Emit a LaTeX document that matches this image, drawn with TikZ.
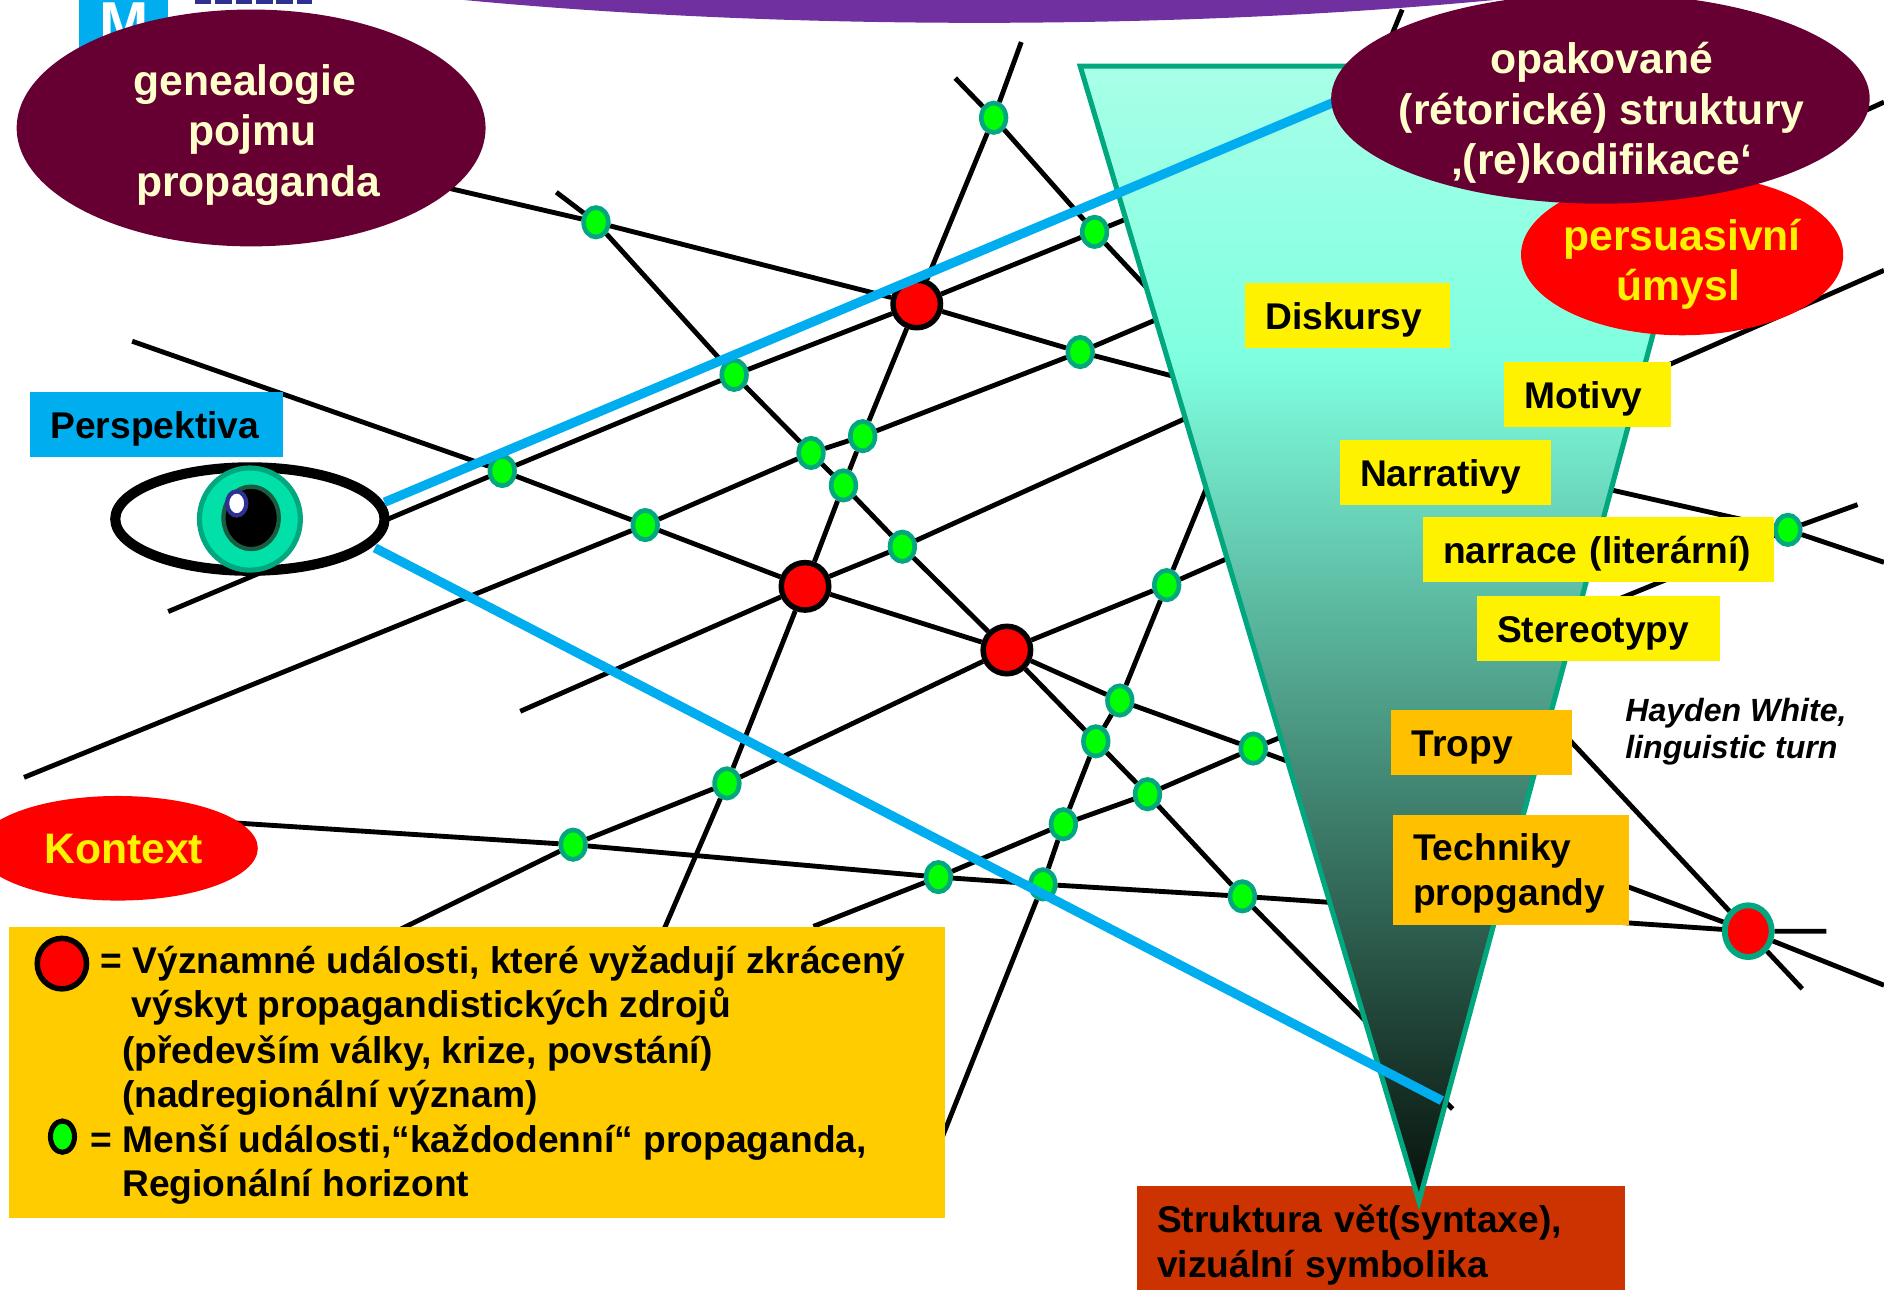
\documentclass[tikz,border=0pt]{standalone}
\usepackage{fontspec}
\setmainfont{Liberation Sans}
\usetikzlibrary{shapes.geometric}
\definecolor{prmaroon}{HTML}{660033}
\definecolor{prcream}{HTML}{FFFFCC}
\definecolor{prblue}{HTML}{00AEEF}
\definecolor{prpurple}{HTML}{7030A0}
\definecolor{prteal}{HTML}{00A77F}
\definecolor{prlime}{HTML}{00FF00}
\definecolor{pramber}{HTML}{FFC000}
\definecolor{prgold}{HTML}{FFCC00}
\definecolor{prrust}{HTML}{CC3300}
\definecolor{prtop}{HTML}{A8FFE8}
\definecolor{prmid}{HTML}{7FFFDF}
\definecolor{prtip}{HTML}{061009}
\definecolor{priris}{HTML}{00E0A8}
\definecolor{prpupil}{HTML}{1A5C40}
\definecolor{prnavy}{HTML}{2E3192}
\pgfdeclareverticalshading{funnelshade}{100bp}{color(0bp)=(prtip); color(25bp)=(prtip); color(62bp)=(prmid); color(75bp)=(prtop); color(100bp)=(prtop)}
\tikzset{
  minor/.style={ellipse, draw=prteal, fill=prlime, line width=1.1pt, inner sep=0pt, minimum width=0.205cm, minimum height=0.245cm},
  major/.style={circle, draw=black, fill=red, line width=1.3pt, inner sep=0pt, minimum size=0.395cm},
  strand/.style={black, line width=1.15pt},
  sightline/.style={prblue, line width=2.2pt},
  bubble/.style={ellipse, inner sep=0pt},
  bubbletext/.style={inner sep=0pt, align=center, font=\fontsize{10.1}{11.95}\selectfont\bfseries},
  tagtwo/.style={rectangle, anchor=west, outer sep=0pt, inner ysep=0pt, inner xsep=0.17cm, align=left, font=\fontsize{8.8}{10.6}\selectfont\bfseries},
  tag/.style={tagtwo, text height=0.295cm, text depth=0.06cm, minimum height=0.54cm},
  legendline/.style={anchor=base west, inner sep=0pt, font=\fontsize{8.8}{10.6}\selectfont\bfseries}
}
\begin{document}
\begin{tikzpicture}[x=0.01cm, y=-0.01cm]
  \clip (0,0) rectangle (1568,1073);

  % Header scraps
  \fill[prpurple] (815,-150) ellipse [x radius=930, y radius=169];
  \fill[prblue] (66,0) rectangle (140,60);
  \node[inner sep=0pt, white, font=\fontsize{14}{14}\selectfont\bfseries] (logo) at (103,19) {M};
  \draw[prnavy, line width=1pt, dash pattern=on 0.14cm off 0.03cm] (162,1.5) -- (260,1.5);

  % Small events
  \node[minor] (g1) at (496,185) {};
  \node[minor] (g2) at (827,98) {};
  \node[minor] (g3) at (911,193) {};
  \node[minor] (g4) at (899,293) {};
  \node[minor] (g5) at (611,312) {};
  \node[minor] (g6) at (418,392) {};
  \node[minor] (g7) at (537,437) {};
  \node[minor] (g8) at (675,377) {};
  \node[minor] (g9) at (718,363) {};
  \node[minor] (g10) at (702,404) {};
  \node[minor] (g11) at (751,455) {};
  \node[minor] (g12) at (971,487) {};
  \node[minor] (g13) at (932,583) {};
  \node[minor] (g14) at (912,617) {};
  \node[minor] (g15) at (1043,623) {};
  \node[minor] (g16) at (955,661) {};
  \node[minor] (g17) at (885,686) {};
  \node[minor] (g18) at (605,652) {};
  \node[minor] (g19) at (477,703) {};
  \node[minor] (g20) at (781,730) {};
  \node[minor] (g21) at (868,736) {};
  \node[minor] (g22) at (1034,746) {};
  \node[minor] (g23) at (1488,441) {};

  % Big events
  \node[major] (r1) at (763,253) {};
  \node[major] (r2) at (670,488) {};
  \node[major] (r3) at (838,541) {};
  \node[major, draw=prteal, ellipse, line width=1.4pt, minimum width=0.39cm, minimum height=0.43cm] (r4) at (1455,775) {};

  % Free ends of the strands
  \coordinate (a1) at (375,157);
  \coordinate (a2) at (1568,468);
  \coordinate (a3) at (1342,408);
  \coordinate (b1) at (140,509);
  \coordinate (b2) at (1000,157);
  \coordinate (c1) at (433,592);
  \coordinate (c2) at (1568,85);
  \coordinate (d1) at (20,647);
  \coordinate (d2) at (1000,250);
  \coordinate (e1) at (330,775);
  \coordinate (e2) at (1568,225);
  \coordinate (f1) at (677,771);
  \coordinate (f2) at (1546,420);
  \coordinate (h1) at (150,682);
  \coordinate (h2) at (1520,775);
  \coordinate (i1) at (795,65);
  \coordinate (i2) at (1500,823);
  \coordinate (j1) at (850,35);
  \coordinate (j2) at (552,775);
  \coordinate (k1) at (1167,8);
  \coordinate (k2) at (780,957);
  \coordinate (l1) at (110,284);
  \coordinate (l2) at (1568,820);
  \coordinate (m1) at (463,160);
  \coordinate (m2) at (1209,923);

  % Strands
  \draw[strand] (a1) -- (g1) (g1) -- (r1) (r1) -- (g4) (g4) -- (a3) -- (g23) (g23) -- (a2);
  \draw[strand] (b1) -- (g6) (g6) -- (g5) (g5) -- (r1) (r1) -- (g3) (g3) -- (b2);
  \draw[strand] (c1) -- (r2) (r2) -- (g11) (g11) -- (c2);
  \draw[strand] (d1) -- (g7) (g7) -- (g8) (g8) -- (g9) (g9) -- (g4) (g4) -- (d2);
  \draw[strand] (e1) -- (g19) (g19) -- (g18) (g18) -- (r3) (r3) -- (g12) (g12) -- (e2);
  \draw[strand] (f1) -- (g20) (g20) -- (g17) (g17) -- (g16) (g16) -- (g15) (g15) -- (g23) (g23) -- (f2);
  \draw[strand] (h1) -- (g19) (g19) -- (g20) (g20) -- (g21) (g21) -- (g22) (g22) -- (r4) (r4) -- (h2);
  \draw[strand] (i1) -- (g2) (g2) -- (g3) (g3) -- (r4) (r4) -- (i2);
  \draw[strand] (j1) -- (g2) (g2) -- (r1) (r1) -- (g9) (g9) -- (g10) (g10) -- (r2) (r2) -- (g18) (g18) -- (j2);
  \draw[strand] (k1) -- (g12) (g12) -- (g13) (g13) -- (g14) (g14) -- (g17) (g17) -- (g21) (g21) -- (k2);
  \draw[strand] (l1) -- (g6) (g6) -- (g7) (g7) -- (r2) (r2) -- (r3) (r3) -- (g13) (g13) -- (g15) (g15) -- (r4) (r4) -- (l2);
  \draw[strand] (m1) -- (g1) (g1) -- (g5) (g5) -- (g8) (g8) -- (g10) (g10) -- (g11) (g11) -- (r3) (r3) -- (g14) (g14) -- (g16) (g16) -- (g22) (g22) -- (m2);

  % Funnel
  \node[tagtwo, fill=prrust, text width=3.72cm, minimum height=0.98cm] (struktura) at (946,1036) {Struktura vět(syntaxe),\\ vizuální symbolika};
  \shadedraw[shading=funnelshade, draw=prteal, line width=1.2pt] (899,55) -- (1436,55) -- (1181,1000) -- cycle;

  % Eye
  \node[ellipse, draw=black, fill=white, line width=2.4pt, inner sep=0pt, minimum width=2.24cm, minimum height=0.86cm] (eye) at (208,432) {};
  \node[ellipse, draw=prteal, fill=priris, line width=1.2pt, inner sep=0pt, minimum width=0.84cm, minimum height=0.85cm] (iris) at (208,432) {};
  \node[ellipse, draw=prpupil, fill=black, line width=1pt, inner sep=0pt, minimum width=0.46cm, minimum height=0.52cm] (pupil) at (209,431) {};
  \node[ellipse, draw=prnavy, fill=white, line width=1pt, inner sep=0pt, minimum width=0.16cm, minimum height=0.2cm] (glint) at (197,419) {};

  % Lines of sight
  \coordinate (sight1) at (320,418);
  \coordinate (sight2) at (1120,81);
  \coordinate (sight3) at (312,456);
  \coordinate (sight4) at (1200,916);
  \draw[sightline] (sight1) -- (sight2);
  \draw[sightline] (sight3) -- (sight4);

  % Bubbles
  \node[bubble, fill=prmaroon, minimum width=3.9cm, minimum height=1.97cm] (genealogie) at (209,106.5) {};
  \node[bubbletext, text=prcream] (genealogietext) at (210,112) {genealogie\hspace*{0.12cm}\\ pojmu\\ \hspace*{0.1cm}propaganda};
  \node[bubble, fill=red, minimum width=2.68cm, minimum height=1.34cm] (umysl) at (1400,212) {};
  \node[bubbletext, text=yellow] (umysltext) at (1400,220) {persuasivní\\ úmysl\hspace*{0.06cm}};
  \node[bubble, fill=prmaroon, minimum width=4.48cm, minimum height=1.75cm] (opakovane) at (1332,82) {};
  \node[bubbletext, text=prcream] (opakovanetext) at (1333,94) {opakované\\ (rétorické) struktury\\ ‚(re)kodifikace‘};
  \node[bubble, fill=red, minimum width=2.33cm, minimum height=0.87cm] (kontext) at (98,706) {};
  \node[bubbletext, text=yellow] (kontexttext) at (103,707) {Kontext};

  % Labels
  \node[tag, fill=prblue, text width=1.76cm] (perspektiva) at (25,353) {Perspektiva};
  \node[tag, fill=yellow, text width=1.37cm] (diskursy) at (1036,262.5) {Diskursy};
  \node[tag, fill=yellow, text width=1.05cm] (motivy) at (1252,328) {Motivy};
  \node[tag, fill=yellow, text width=1.42cm] (narrativy) at (1115,393) {Narrativy};
  \node[tag, fill=yellow, text width=2.58cm] (narrace) at (1184,457.5) {narrace (literární)};
  \node[tag, fill=yellow, text width=1.68cm] (stereotypy) at (1229,523) {Stereotypy};
  \node[tag, fill=pramber, text width=1.16cm] (tropy) at (1158,618) {Tropy};
  \node[tagtwo, fill=pramber, text width=1.63cm, minimum height=0.92cm] (techniky) at (1159,724) {\rule{0pt}{0.285cm}Techniky\\ propgandy};
  \node[anchor=west, inner sep=0pt, align=left, font=\fontsize{7.6}{8.9}\selectfont\bfseries\itshape] (hayden) at (1352,609) {Hayden White,\\ linguistic turn};

  % Legend
  \node[rectangle, fill=prgold, minimum width=7.78cm, minimum height=2.42cm, inner sep=0pt] (legend) at (397,893) {};
  \node[major, ellipse, line width=1.3pt, minimum width=0.41cm, minimum height=0.42cm] (legendmajor) at (51.5,802) {};
  \node[minor, draw=black, line width=1.2pt, minimum width=0.2cm, minimum height=0.26cm] (legendminor) at (52,946) {};
  \node[legendline] (text1) at (83,810) {= Významné události, které vyžadují zkrácený};
  \node[legendline] (text2) at (109,847) {výskyt propagandistických zdrojů};
  \node[legendline] (text3) at (101,885) {(především války, krize, povstání)};
  \node[legendline] (text4) at (101,922) {(nadregionální význam)};
  \node[legendline] (text5) at (75,959) {= Menší události,“každodenní“ propaganda,};
  \node[legendline] (text6) at (101,996) {Regionální horizont};
\end{tikzpicture}
\end{document}
